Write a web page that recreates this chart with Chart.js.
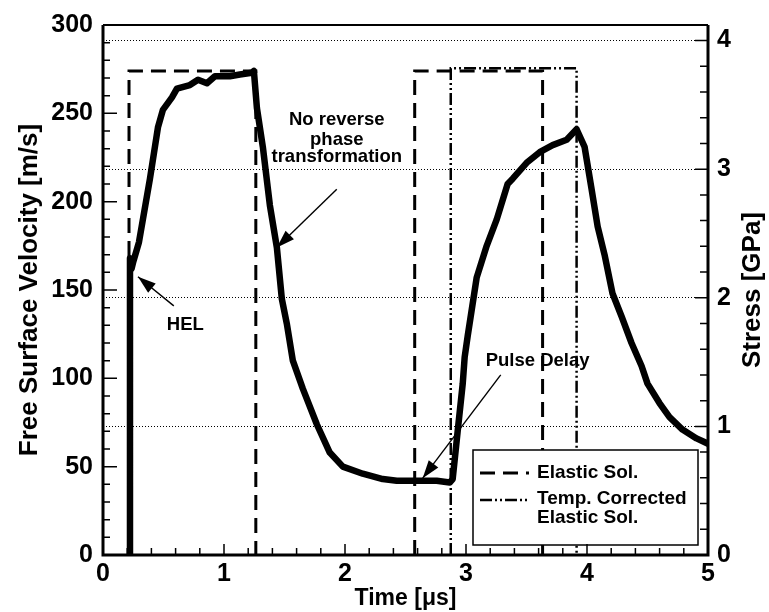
<!DOCTYPE html>
<html>
<head>
<meta charset="utf-8">
<script src="https://cdn.jsdelivr.net/npm/chart.js@4.4.1/dist/chart.umd.min.js"></script>
<style>
  body { margin: 0; background: #fff; }
  canvas { display: block; }
</style>
</head>
<body>
<canvas id="shock" width="769" height="612"></canvas>
<script>
// measured free surface velocity [us, m/s]
var curveTime = [0.223, 0.223, 0.236, 0.25, 0.297, 0.388, 0.454, 0.495, 0.570, 0.611,
    0.718, 0.785, 0.859, 0.925, 1.049, 1.131, 1.231, 1.247, 1.272, 1.321,
    1.379, 1.437, 1.478, 1.519, 1.569, 1.652, 1.767, 1.874, 1.982, 2.147,
    2.312, 2.428, 2.593, 2.758, 2.865, 2.890, 2.931, 2.973, 2.989, 3.014,
    3.088, 3.171, 3.254, 3.344, 3.386, 3.501, 3.609, 3.716, 3.832, 3.914,
    3.980, 4.038, 4.088, 4.145, 4.211, 4.286, 4.368, 4.451, 4.500, 4.599,
    4.682, 4.789, 4.905, 5.0];
var curveVelocity = [0, 168, 162, 166, 177, 213, 242, 252, 259, 264,
    266, 269, 267, 271, 271, 272, 273, 274, 253, 231,
    198, 174, 145, 131, 110, 94, 74, 58, 50, 46,
    43, 42, 42, 42, 41, 43, 70, 97, 112, 124,
    157, 175, 190, 210, 213, 222, 228, 232, 235, 241,
    231, 207, 186, 170, 148, 135, 120, 107, 97, 86,
    78, 71, 66, 63];

// elastic solution, two pulses
var elasticTime = [[0.215, 0.215, 1.263, 1.263], [2.576, 2.576, 3.633, 3.633]];
var elasticVelocity = [[0, 274, 274, 0], [0, 274, 274, 0]];

// temperature corrected elastic solution
var tempTime = [2.874, 2.874, 3.914, 3.914];
var tempVelocity = [0, 275.5, 275.5, 0];

var timeTicks = [0, 1, 2, 3, 4, 5];
var velocityTicks = [0, 50, 100, 150, 200, 250, 300];
var stressTicks = [0, 1, 2, 3, 4];
var velocityPerGPa = 72.8;

// annotations: text lines at [t, v], arrows from tail to tip
var notes = [
    { text: "HEL", at: [0.68, 130] },
    { text: "No reverse", at: [1.932, 246] },
    { text: "phase", at: [1.932, 235] },
    { text: "transformation", at: [1.932, 225.5] },
    { text: "Pulse Delay", at: [3.592, 110] }
];
var arrows = [
    { from: [0.585, 141], to: [0.289, 157.5] },
    { from: [1.932, 207], to: [1.437, 174] },
    { from: [3.287, 102], to: [2.642, 43.5] }
];

var FONT = '"Liberation Sans", Arial, Helvetica, sans-serif';
Chart.defaults.font.family = FONT;
Chart.defaults.color = "#000";

function pts(xs, ys) {
    return xs.map(function (x, i) { return { x: x, y: ys[i] }; });
}

var dashLong = [15, 8];
var dashDotDot = [12, 3, 2, 3, 2, 3];

var decor = {
    id: "decor",
    afterDatasetsDraw: function (chart) {
        var ctx = chart.ctx, ca = chart.chartArea;
        // legend box
        var lx = ca.right - 235, ly = ca.bottom - 105;
        ctx.save();
        ctx.fillStyle = "#fff";
        ctx.fillRect(lx, ly, 225, 95);
        ctx.strokeStyle = "#000";
        ctx.lineWidth = 1.5;
        ctx.strokeRect(lx, ly, 225, 95);
        ctx.lineWidth = 3;
        ctx.setLineDash(dashLong);
        ctx.beginPath(); ctx.moveTo(lx + 7, ly + 23); ctx.lineTo(lx + 56, ly + 23); ctx.stroke();
        ctx.lineWidth = 2.5;
        ctx.setLineDash(dashDotDot);
        ctx.beginPath(); ctx.moveTo(lx + 7, ly + 50); ctx.lineTo(lx + 56, ly + 50); ctx.stroke();
        ctx.setLineDash([]);
        ctx.fillStyle = "#000";
        ctx.font = "bold 19px " + FONT;
        ctx.textBaseline = "middle";
        ctx.textAlign = "left";
        ctx.fillText("Elastic Sol.", lx + 64, ly + 23);
        ctx.fillText("Temp. Corrected", lx + 64, ly + 49);
        ctx.fillText("Elastic Sol.", lx + 64, ly + 68);
        ctx.restore();
    },
    afterDraw: function (chart) {
        var ctx = chart.ctx, ca = chart.chartArea;
        var sx = chart.scales.x, sy = chart.scales.y, s2 = chart.scales.y2;
        ctx.save();
        ctx.strokeStyle = "#000";
        ctx.fillStyle = "#000";
        // inside ticks
        ctx.lineWidth = 1.5;
        ctx.beginPath();
        for (var v = 0; v <= 300; v += 10) {
            var py = sy.getPixelForValue(v);
            ctx.moveTo(ca.left, py); ctx.lineTo(ca.left + (v % 50 === 0 ? 14 : 7), py);
        }
        for (var i = 0; i <= 25; i++) {
            var t = i * 0.2, px = sx.getPixelForValue(t);
            ctx.moveTo(px, ca.bottom); ctx.lineTo(px, ca.bottom - (i % 5 === 0 ? 11 : 7));
        }
        for (var j = 0; j <= 20; j++) {
            var s = j * 0.2, qy = s2.getPixelForValue(s);
            ctx.moveTo(ca.right, qy); ctx.lineTo(ca.right - (j % 5 === 0 ? 13 : 8), qy);
        }
        ctx.stroke();
        // frame
        ctx.lineWidth = 3;
        ctx.beginPath();
        ctx.moveTo(ca.left, ca.top); ctx.lineTo(ca.left, ca.bottom);
        ctx.lineTo(ca.right, ca.bottom); ctx.lineTo(ca.right, ca.top);
        ctx.stroke();
        ctx.lineWidth = 2;
        ctx.beginPath(); ctx.moveTo(ca.left, ca.top); ctx.lineTo(ca.right, ca.top); ctx.stroke();
        // annotations
        ctx.font = "bold 18.5px " + FONT;
        ctx.textAlign = "center";
        ctx.textBaseline = "middle";
        notes.forEach(function (n) {
            ctx.fillText(n.text, sx.getPixelForValue(n.at[0]), sy.getPixelForValue(n.at[1]));
        });
        ctx.lineWidth = 1.4;
        arrows.forEach(function (a) {
            var x0 = sx.getPixelForValue(a.from[0]), y0 = sy.getPixelForValue(a.from[1]);
            var x1 = sx.getPixelForValue(a.to[0]), y1 = sy.getPixelForValue(a.to[1]);
            var ang = Math.atan2(y1 - y0, x1 - x0);
            ctx.beginPath(); ctx.moveTo(x0, y0); ctx.lineTo(x1, y1); ctx.stroke();
            ctx.beginPath();
            ctx.moveTo(x1, y1);
            ctx.lineTo(x1 - 18 * Math.cos(ang) + 6 * Math.sin(ang), y1 - 18 * Math.sin(ang) - 6 * Math.cos(ang));
            ctx.lineTo(x1 - 18 * Math.cos(ang) - 6 * Math.sin(ang), y1 - 18 * Math.sin(ang) + 6 * Math.cos(ang));
            ctx.closePath();
            ctx.fill();
        });
        // right axis title, reading bottom to top
        ctx.font = "bold 26px " + FONT;
        ctx.translate(753, (ca.top + ca.bottom) / 2);
        ctx.rotate(-Math.PI / 2);
        ctx.fillText("Stress [GPa]", 0, 0);
        ctx.restore();
    }
};

var lineBase = { pointRadius: 0, fill: false, tension: 0, borderColor: "#000" };

var chart = new Chart(document.getElementById("shock").getContext("2d"), {
    type: "line",
    data: {
        datasets: [
            Object.assign({}, lineBase, {
                label: "Measured", data: pts(curveTime, curveVelocity),
                borderWidth: 6.5, borderJoinStyle: "round", borderCapStyle: "round"
            }),
            Object.assign({}, lineBase, {
                label: "Elastic Sol.", data: pts(elasticTime[0], elasticVelocity[0]),
                borderWidth: 3, borderDash: dashLong
            }),
            Object.assign({}, lineBase, {
                label: "Elastic Sol. 2", data: pts(elasticTime[1], elasticVelocity[1]),
                borderWidth: 3, borderDash: dashLong
            }),
            Object.assign({}, lineBase, {
                label: "Temp. Corrected Elastic Sol.", data: pts(tempTime, tempVelocity),
                borderWidth: 2.5, borderDash: dashDotDot
            })
        ]
    },
    options: {
        responsive: false,
        animation: false,
        layout: { padding: { top: 16, left: 0, right: 0, bottom: 0 } },
        plugins: { legend: { display: false }, tooltip: { enabled: false } },
        scales: {
            x: {
                type: "linear", position: "bottom", min: 0, max: 5,
                afterFit: function (s) { s.height = 57; },
                afterBuildTicks: function (s) { s.ticks = timeTicks.map(function (v) { return { value: v }; }); },
                grid: { display: false, drawTicks: false },
                border: { display: false },
                ticks: { font: { size: 25, weight: "bold" }, padding: 4, maxRotation: 0 },
                title: { display: true, text: "Time [\u03bcs]", font: { size: 23, weight: "bold" }, padding: { top: 0, bottom: 0 } }
            },
            y: {
                type: "linear", position: "left", min: 0, max: 300,
                afterFit: function (s) { s.width = 103; },
                afterBuildTicks: function (s) { s.ticks = velocityTicks.map(function (v) { return { value: v }; }); },
                grid: { display: false, drawTicks: false },
                border: { display: false },
                ticks: { font: { size: 25, weight: "bold" }, padding: 10 },
                title: { display: true, text: "Free Surface Velocity [m/s]", font: { size: 26, weight: "bold" }, padding: { top: 14 } }
            },
            y2: {
                type: "linear", position: "right", min: 0, max: 300 / velocityPerGPa,
                afterFit: function (s) { s.width = 61; },
                afterBuildTicks: function (s) { s.ticks = stressTicks.map(function (v) { return { value: v }; }); },
                grid: { display: true, drawTicks: false, color: "#000", lineWidth: 1 },
                border: { display: false, dash: [1, 2] },
                ticks: { font: { size: 25, weight: "bold" }, padding: 9 }
            }
        }
    },
    plugins: [decor]
});
</script>
</body>
</html>
